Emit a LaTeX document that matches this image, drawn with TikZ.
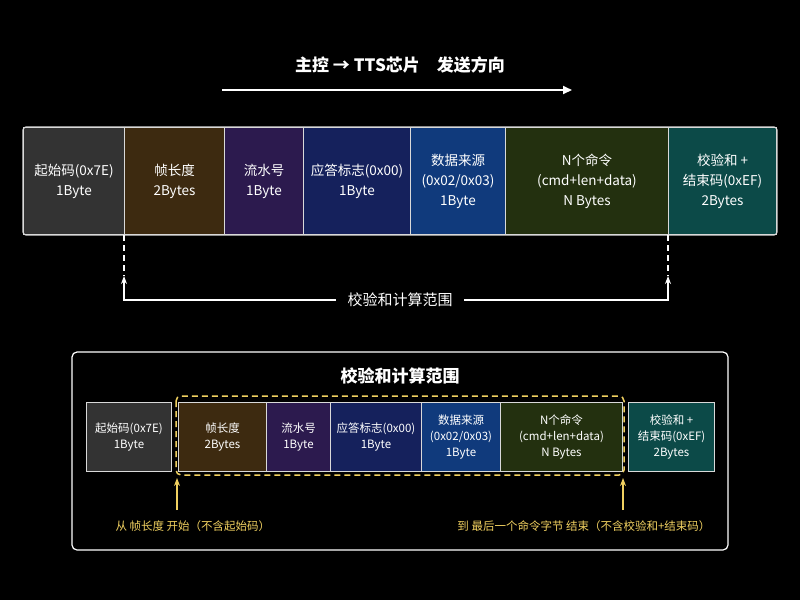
\documentclass[tikz,border=0pt]{standalone}
\usepackage{fontspec}
\setmainfont{Noto Sans CJK SC}
\usetikzlibrary{arrows.meta}
\definecolor{cgray}{HTML}{333333}
\definecolor{cbrown}{HTML}{3D2A10}
\definecolor{cpurple}{HTML}{2C1A4E}
\definecolor{cnavy}{HTML}{15215C}
\definecolor{cblue}{HTML}{103A7C}
\definecolor{colive}{HTML}{23300F}
\definecolor{cteal}{HTML}{0C4A48}
\definecolor{cyel}{HTML}{F0D060}
\tikzset{
 cell/.style={draw=white!85!black,line width=1pt,text=white,anchor=north west,inner sep=0pt,align=center,font=\fontsize{13.5}{20}\selectfont},
 scell/.style={cell,font=\fontsize{11.5}{16}\selectfont},
 lbl/.style={text=white,font=\fontsize{15}{17}\selectfont},
 dsh/.style={dash pattern=on 6pt off 4pt}
}
\begin{document}
\begin{tikzpicture}[x=1pt,y=-1pt]
 \fill[black] (0,0) rectangle (800,600);
 \useasboundingbox (0,0) rectangle (800,600);
 % direction
 \node[lbl,font=\fontsize{17}{19}\selectfont\bfseries] (dir) at (400,65) {主控 → TTS芯片\quad 发送方向};
 \coordinate (d1) at (222,90);
 \coordinate (d2) at (572,90);
 \draw[white,line width=2pt,-{Triangle[length=9pt,width=8pt]}] (d1) -- (d2);
 % top frame
 \node[cell,fill=cgray,minimum width=101,minimum height=107] (t1) at (23,127) {起始码(0x7E)\\1Byte};
 \node[cell,fill=cbrown,minimum width=100,minimum height=107] (t2) at (124,127) {帧长度\\2Bytes};
 \node[cell,fill=cpurple,minimum width=79,minimum height=107] (t3) at (224,127) {流水号\\1Byte};
 \node[cell,fill=cnavy,minimum width=107,minimum height=107] (t4) at (303,127) {应答标志(0x00)\\1Byte};
 \node[cell,fill=cblue,minimum width=95,minimum height=107] (t5) at (410,127) {数据来源\\(0x02/0x03)\\1Byte};
 \node[cell,fill=colive,minimum width=163,minimum height=107] (t6) at (505,127) {N个命令\\(cmd+len+data)\\N Bytes};
 \node[cell,fill=cteal,minimum width=108,minimum height=107] (t7) at (668,127) {校验和 +\\结束码(0xEF)\\2Bytes};
 \draw[white!85!black,line width=1.2pt,rounded corners=3pt] (t1.north west) rectangle (t7.south east);
 % range bracket
 \node[lbl] (rng) at (400,300) {校验和计算范围};
 \coordinate (r1) at (124,300);
 \coordinate (r2) at (668,300);
 \draw[white,line width=1.2pt,dsh] (t2.south west) -- ([yshift=24]r1);
 \draw[white,line width=1.2pt,dsh] (t7.south west) -- ([yshift=24]r2);
 \draw[white,line width=1.2pt,-{Stealth[length=8pt]}] ([xshift=-8]rng.west) -- (r1) -- ([yshift=24]r1);
 \draw[white,line width=1.2pt,-{Stealth[length=8pt]}] ([xshift=8]rng.east) -- (r2) -- ([yshift=24]r2);
 % bottom panel
 \draw[white,line width=1.2pt,rounded corners=5pt] (72,352) rectangle (728,550);
 \node[lbl,font=\fontsize{17}{19}\selectfont\bfseries] (ttl) at (400,376) {校验和计算范围};
 \node[scell,fill=cgray,minimum width=85,minimum height=69] (b1) at (86,402) {起始码(0x7E)\\1Byte};
 \node[scell,fill=cbrown,minimum width=88,minimum height=69] (b2) at (178,402) {帧长度\\2Bytes};
 \node[scell,fill=cpurple,minimum width=64,minimum height=69] (b3) at (266,402) {流水号\\1Byte};
 \node[scell,fill=cnavy,minimum width=91,minimum height=69] (b4) at (330,402) {应答标志(0x00)\\1Byte};
 \node[scell,fill=cblue,minimum width=79,minimum height=69] (b5) at (421,402) {数据来源\\(0x02/0x03)\\1Byte};
 \node[scell,fill=colive,minimum width=122,minimum height=69] (b6) at (500,402) {N个命令\\(cmd+len+data)\\N Bytes};
 \node[scell,fill=cteal,minimum width=86,minimum height=69] (b7) at (628,402) {校验和 +\\结束码(0xEF)\\2Bytes};
 \draw[cyel,line width=1.5pt,dsh,rounded corners=5pt] (176,396) rectangle (624,475);
 \node[text=cyel,anchor=west,font=\fontsize{11.5}{13}\selectfont] (nl) at (112,526) {从\ 帧长度\ 开始（不含起始码）};
 \node[text=cyel,anchor=east,font=\fontsize{11.5}{13}\selectfont] (nr) at (714,526) {到\ 最后一个命令字节\ 结束（不含校验和+结束码）};
 \coordinate (y1) at (177,510);
 \coordinate (y2) at (623,510);
 \draw[cyel,line width=1.2pt,-{Stealth[length=8pt]}] (y1) -- ([yshift=32]y1);
 \draw[cyel,line width=1.2pt,-{Stealth[length=8pt]}] (y2) -- ([yshift=32]y2);
\end{tikzpicture}
\end{document}
